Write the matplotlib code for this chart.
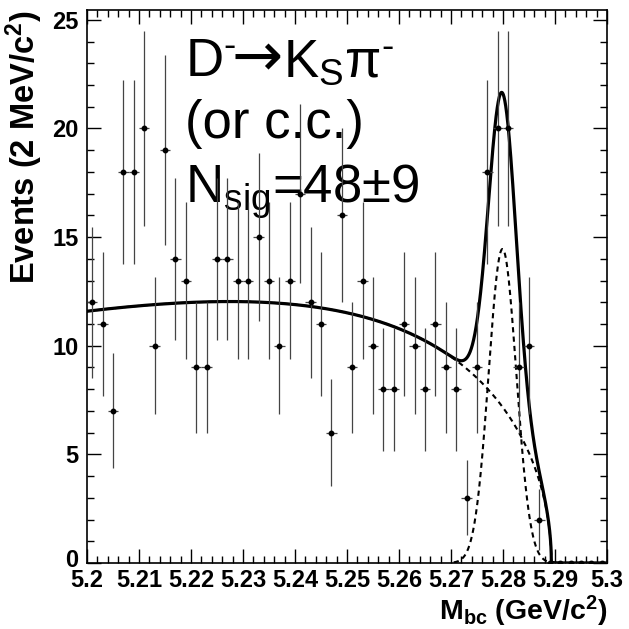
import numpy as np
import matplotlib
matplotlib.use("Agg")
import matplotlib.pyplot as plt
import matplotlib.transforms as mtransforms
from matplotlib.ticker import MultipleLocator, FuncFormatter

plt.rcParams['font.family'] = ['Liberation Sans', 'DejaVu Sans']
plt.rcParams['mathtext.fontset'] = 'custom'
plt.rcParams['mathtext.rm'] = 'Liberation Sans'
plt.rcParams['mathtext.it'] = 'Liberation Sans:italic'
plt.rcParams['mathtext.bf'] = 'Liberation Sans:bold'
plt.rcParams['mathtext.fallback'] = 'stixsans'

# Mbc histogram, 2 MeV bins from 5.20 to 5.30
bin_start = 5.2
bin_width = 0.002
counts = [12, 11, 7, 18, 18, 20, 10, 19, 14, 13,
          9, 9, 14, 14, 13, 13, 15, 13, 10, 13,
          17, 12, 11, 6, 16, 9, 13, 10, 8, 8,
          11, 10, 8, 11, 9, 8, 3, 9, 18, 20,
          20, 9, 10, 2, 0, 0, 0, 0, 0, 0]

# fit result (ARGUS background + gaussian signal)
argus_m0 = 5.2893
argus_c = -21.0
argus_norm = 24.6
sig_mean = 5.2799
sig_sigma = 0.00265
n_sig = 48

x_ticks = [5.2, 5.21, 5.22, 5.23, 5.24, 5.25, 5.26, 5.27, 5.28, 5.29, 5.3]
y_ticks = [0, 5, 10, 15, 20, 25]

centers = bin_start + bin_width * (np.arange(len(counts)) + 0.5)
counts = np.array(counts, dtype=float)


def argus(m):
    z = 1 - (m / argus_m0) ** 2
    out = np.zeros_like(m)
    ok = z > 0
    out[ok] = argus_norm * m[ok] * np.sqrt(z[ok]) * np.exp(argus_c * z[ok])
    return out


def signal(m):
    amp = n_sig * bin_width / (np.sqrt(2 * np.pi) * sig_sigma)
    return amp * np.exp(-0.5 * ((m - sig_mean) / sig_sigma) ** 2)


fig = plt.figure(figsize=(6.29, 6.29), dpi=100)
ax = fig.add_axes([0.1383, 0.105, 0.8267, 0.879])

m = np.linspace(5.2, 5.3, 4001)
bkg = argus(m)
sig = signal(m)

sel = (m > 5.2705) & (m < 5.2895)
ax.plot(m[sel], sig[sel], color='black', lw=1.5, ls=(0, (2.5, 2)))
ax.plot(m, bkg, color='black', lw=1.5, ls=(0, (2.5, 2)))
ax.plot(m, bkg + sig, color='black', lw=2.3)

ax.errorbar(centers, counts, yerr=np.sqrt(counts), xerr=bin_width / 2,
            fmt='o', ms=3.2, color='black', ecolor='#444444',
            elinewidth=0.9, capsize=0, zorder=5)

ax.set_xlim(5.2, 5.3)
ax.set_ylim(0, 25.45)
ax.set_xticks(x_ticks)
ax.set_yticks(y_ticks)
ax.xaxis.set_minor_locator(MultipleLocator(0.002))
ax.yaxis.set_minor_locator(MultipleLocator(1))
ax.xaxis.set_major_formatter(FuncFormatter(lambda v, p: '%g' % round(v, 3)))
ax.tick_params(which='both', direction='in', top=True, right=True, width=1)
ax.tick_params(which='major', length=10, labelsize=17)
ax.tick_params(axis='x', which='major', pad=4)
ax.tick_params(axis='y', which='major', pad=6)
ax.tick_params(which='minor', length=5)
for lab in ax.get_xticklabels() + ax.get_yticklabels():
    lab.set_fontweight('bold')
for sp in ax.spines.values():
    sp.set_linewidth(1.2)

# lift the "0" a little, as in the original
zero_lab = ax.get_yticklabels()[0]
zero_lab.set_transform(zero_lab.get_transform() +
                       mtransforms.ScaledTranslation(0, 5 / 100, fig.dpi_scale_trans))

ax.set_ylabel(r'Events (2 MeV/c$^\mathbf{2}$)', fontsize=23.5, fontweight='bold',
              loc='top', labelpad=5)
ax.set_xlabel(r'M$_\mathbf{bc}$ (GeV/c$^\mathbf{2}$)', fontsize=20.5,
              fontweight='bold', loc='right', labelpad=2)

# decay label in three pieces so the arrow can be long and tight
ax.text(5.2188, 22.4, r'D$^{\mathrm{‐}}$', fontsize=38)
ax.text(5.2277, 22.4, '→', fontsize=44, family='DejaVu Sans')
ax.text(5.2377, 22.4, r'K$_{\mathrm{S}}$π$^{\mathrm{‐}}$', fontsize=38)
ax.text(5.2188, 19.55, '(or c.c.)', fontsize=38)
ax.text(5.2188, 16.6, r'N$_{\mathrm{sig}}$=48±9', fontsize=38)

fig.savefig('out.png', dpi=100)
